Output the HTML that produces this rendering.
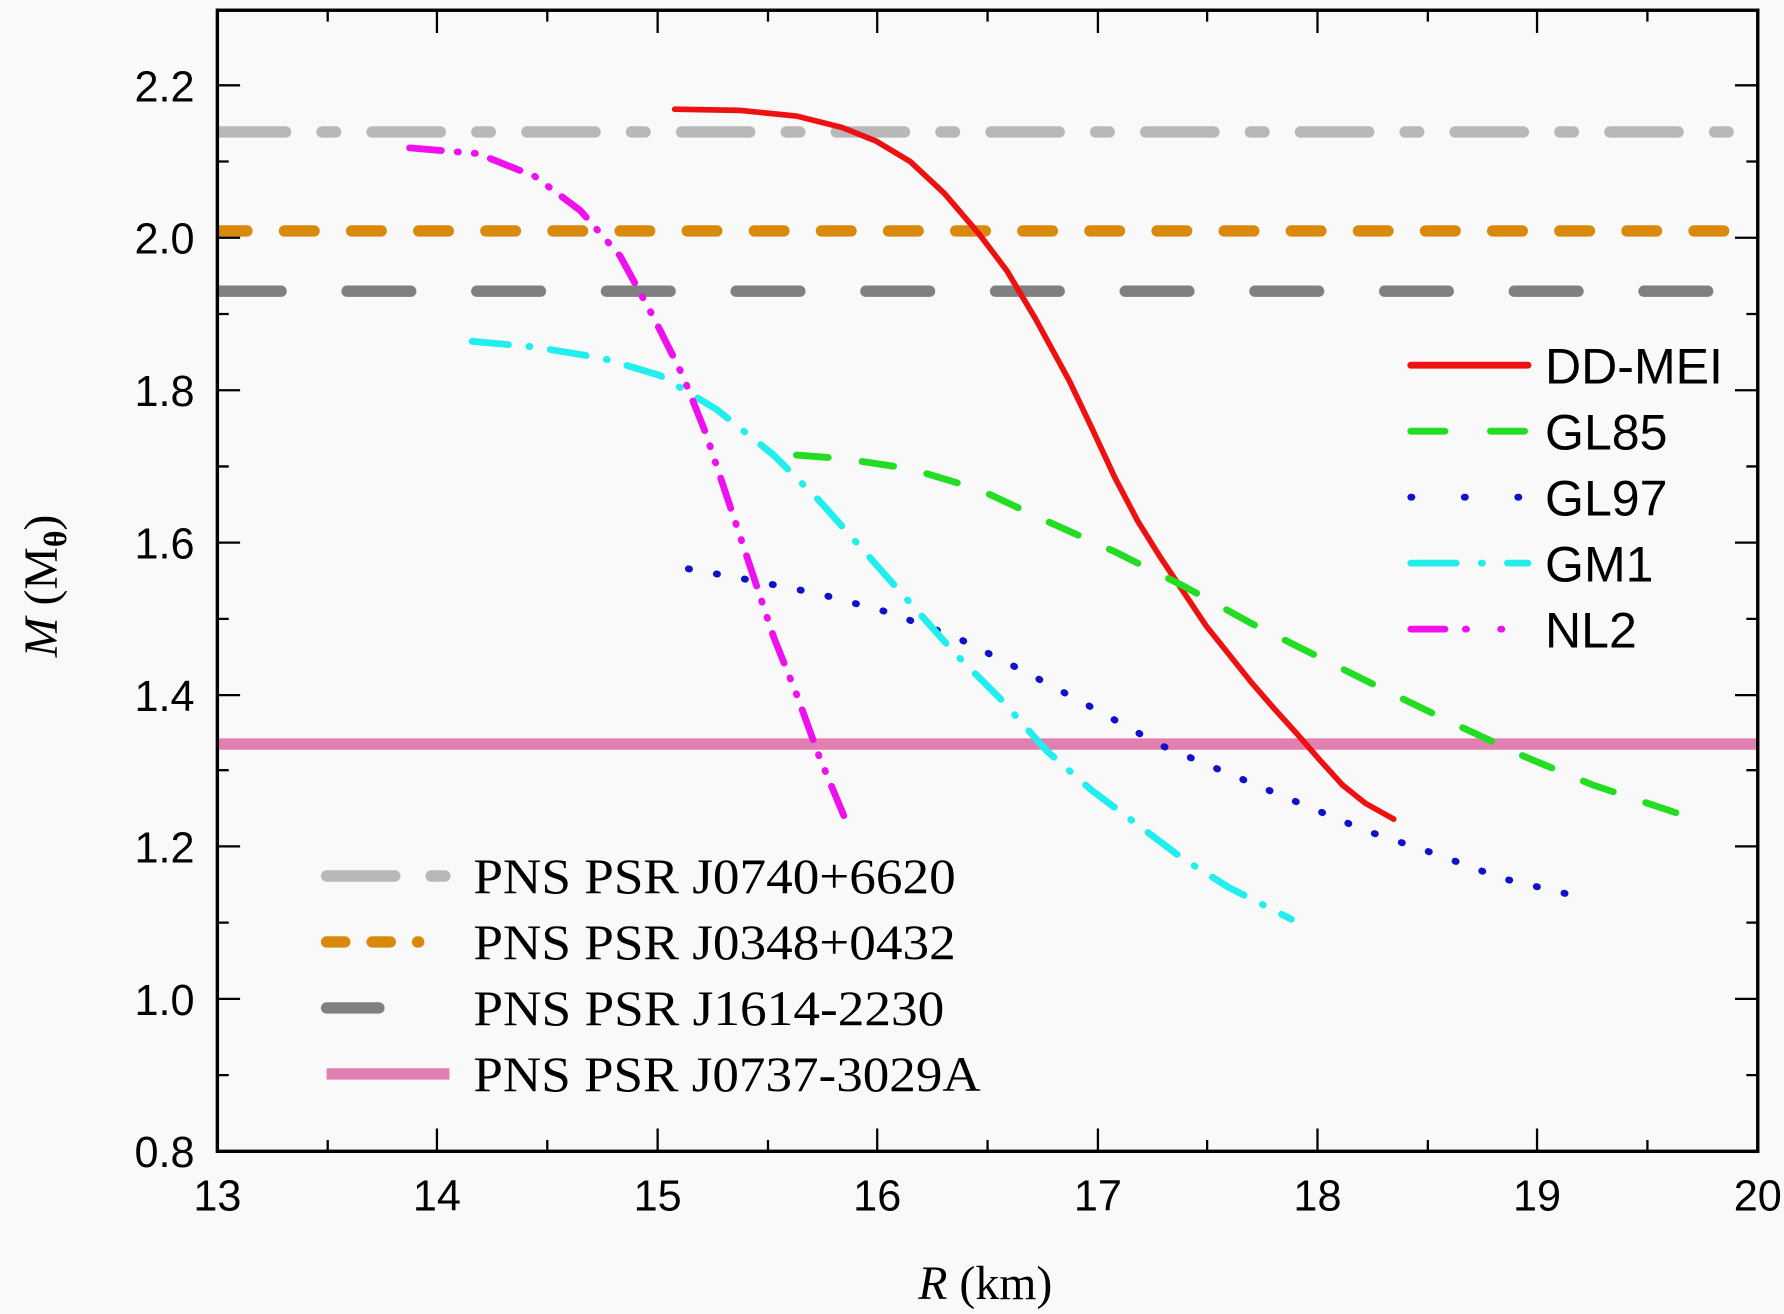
<!DOCTYPE html>
<html><head><meta charset="utf-8"><style>
html,body{margin:0;padding:0;background:#f9f9f9;}
svg{display:block}
.s{font-family:"Liberation Sans",sans-serif;}
.r{font-family:"Liberation Serif",serif;}
</style></head><body>
<svg width="1784" height="1314" viewBox="0 0 1568 1155" xmlns="http://www.w3.org/2000/svg">
<rect width="1568" height="1155" fill="#f9f9f9"/>
<defs><clipPath id="c"><rect x="191" y="9" width="1354" height="1003"/></clipPath></defs>
<g clip-path="url(#c)" fill="none" stroke-linecap="round">
<line x1="191" y1="116" x2="1545" y2="116" stroke="#b8b8b8" stroke-width="10" stroke-dasharray="60,32,12,32"/>
<line x1="191" y1="203" x2="1545" y2="203" stroke="#d98a0c" stroke-width="10" stroke-dasharray="26,33"/>
<line x1="191" y1="256" x2="1545" y2="256" stroke="#808080" stroke-width="10" stroke-dasharray="56,58"/>
<line x1="191" y1="654" x2="1545" y2="654" stroke="#e07fb0" stroke-width="10" stroke-linecap="butt"/>
<polyline stroke="#ee1111" stroke-width="5" points="593,96 650,97 700,102 740,112 770,124 800,142 830,170 860,205 885,238 910,280 940,335 960,377 980,420 1000,458 1020,490 1040,520 1060,550 1080,575 1100,600 1120,623 1140,645 1160,668 1180,690 1200,706 1225,720"/>
<polyline stroke="#22dd22" stroke-width="6" stroke-dasharray="28,30" points="700,400 740,403 800,412 860,430 920,458 980,485 1040,515 1100,548 1160,578 1220,608 1280,637 1340,665 1400,690 1490,720"/>
<polyline stroke="#1111cc" stroke-width="6" stroke-dasharray="1,24" points="605,500 660,510 720,522 780,538 840,560 900,590 960,622 1020,655 1080,680 1140,705 1200,730 1260,750 1320,772 1395,790"/>
<polyline stroke="#22eeee" stroke-width="6" stroke-dasharray="32,18,1,18" points="415,300 470,305 530,315 580,330 630,360 680,400 720,440 760,485 800,530 840,575 880,615 920,660 960,695 1000,725 1040,755 1080,780 1135,808"/>
<polyline stroke="#ee11ee" stroke-width="6" stroke-dasharray="28,14,1,14,1,14" points="360,130 420,135 470,155 510,185 545,225 575,280 600,330 620,380 640,440 660,500 680,560 700,610 720,665 745,725"/>
</g>
<rect x="191" y="9" width="1354" height="1003" fill="none" stroke="#000" stroke-width="3"/>
<g stroke="#000" stroke-width="2">
<path d="M288,1012v-10M481,1012v-10M675,1012v-10M868,1012v-10M1061,1012v-10M1255,1012v-10M1448,1012v-10M384,1012v-20M578,1012v-20M771,1012v-20M965,1012v-20M1158,1012v-20M1351,1012v-20"/>
<path d="M288,9v10M481,9v10M675,9v10M868,9v10M1061,9v10M1255,9v10M1448,9v10M384,9v20M578,9v20M771,9v20M965,9v20M1158,9v20M1351,9v20"/>
<path d="M191,945h10M191,811h10M191,677h10M191,544h10M191,410h10M191,276h10M191,142h10M191,878h20M191,744h20M191,611h20M191,477h20M191,343h20M191,209h20M191,75h20"/>
<path d="M1545,945h-10M1545,811h-10M1545,677h-10M1545,544h-10M1545,410h-10M1545,276h-10M1545,142h-10M1545,878h-20M1545,744h-20M1545,611h-20M1545,477h-20M1545,343h-20M1545,209h-20M1545,75h-20"/>
</g>
<g class="s" font-size="38" text-anchor="end" fill="#000">
<text x="171" y="1026">0.8</text><text x="171" y="892">1.0</text><text x="171" y="758">1.2</text><text x="171" y="625">1.4</text><text x="171" y="491">1.6</text><text x="171" y="357">1.8</text><text x="171" y="223">2.0</text><text x="171" y="89">2.2</text>
</g>
<g class="s" font-size="38" text-anchor="middle" fill="#000">
<text x="191" y="1064">13</text><text x="384" y="1064">14</text><text x="578" y="1064">15</text><text x="771" y="1064">16</text><text x="965" y="1064">17</text><text x="1158" y="1064">18</text><text x="1351" y="1064">19</text><text x="1545" y="1064">20</text>
</g>
<text class="r" x="866" y="1142" font-size="42" text-anchor="middle"><tspan font-style="italic">R</tspan> (km)</text>
<text class="r" transform="translate(50,515) rotate(-90)" font-size="42" text-anchor="middle"><tspan font-style="italic">M</tspan> (M<tspan font-size="28" dy="8" font-weight="bold">θ</tspan><tspan dy="-8">)</tspan></text>
<g fill="none" stroke-linecap="round">
<line x1="1240" y1="321" x2="1343" y2="321" stroke="#ee1111" stroke-width="6"/>
<line x1="1240" y1="379" x2="1343" y2="379" stroke="#22dd22" stroke-width="6" stroke-dasharray="30,40"/>
<line x1="1240" y1="437" x2="1343" y2="437" stroke="#1111cc" stroke-width="6" stroke-dasharray="1,46"/>
<line x1="1240" y1="495" x2="1343" y2="495" stroke="#22eeee" stroke-width="6" stroke-dasharray="40,22,1,22"/>
<line x1="1240" y1="553" x2="1343" y2="553" stroke="#ee11ee" stroke-width="6" stroke-dasharray="30,18,1,30,1,30,1,30"/>
<line x1="287" y1="770" x2="395" y2="770" stroke="#b8b8b8" stroke-width="10" stroke-dasharray="60,32,12,32"/>
<line x1="287" y1="828" x2="395" y2="828" stroke="#d98a0c" stroke-width="10" stroke-dasharray="16,24,16,24,1,30"/>
<line x1="287" y1="886" x2="333" y2="886" stroke="#808080" stroke-width="10"/>
<line x1="287" y1="944" x2="395" y2="944" stroke="#e07fb0" stroke-width="10" stroke-linecap="butt"/>
</g>
<g class="s" font-size="44" fill="#000">
<text x="1358" y="337">DD-MEI</text><text x="1358" y="395">GL85</text><text x="1358" y="453">GL97</text><text x="1358" y="511">GM1</text><text x="1358" y="569">NL2</text>
</g>
<g class="r" font-size="44" fill="#000">
<text x="416" y="785" textLength="424" lengthAdjust="spacingAndGlyphs">PNS PSR J0740+6620</text>
<text x="416" y="843" textLength="424" lengthAdjust="spacingAndGlyphs">PNS PSR J0348+0432</text>
<text x="416" y="901" textLength="414" lengthAdjust="spacingAndGlyphs">PNS PSR J1614-2230</text>
<text x="416" y="959" textLength="446" lengthAdjust="spacingAndGlyphs">PNS PSR J0737-3029A</text>
</g>
</svg>
</body></html>
